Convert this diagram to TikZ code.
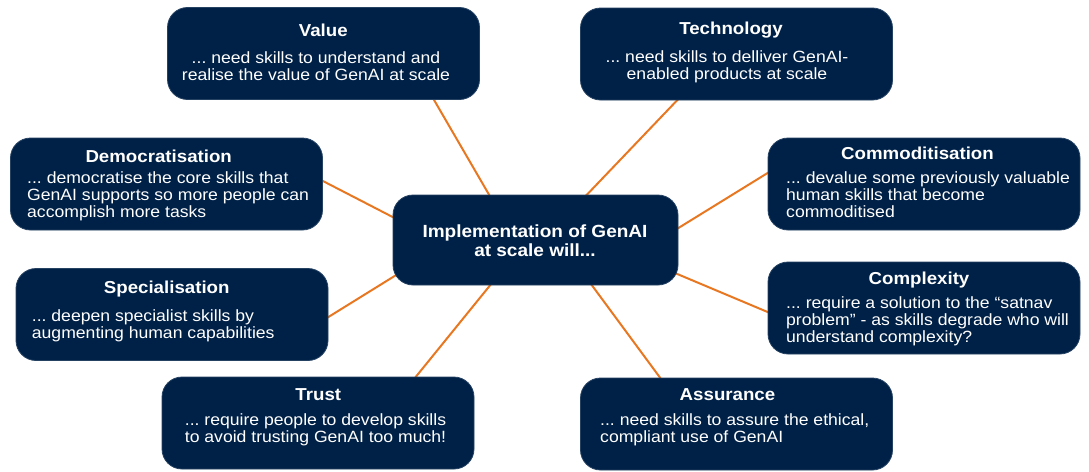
\documentclass[tikz,border=0pt]{standalone}
\usepackage{fontspec}
\setmainfont{Liberation Sans}[FakeStretch=1.08]
\usetikzlibrary{calc,backgrounds}
\definecolor{navy}{HTML}{002147}
\definecolor{wire}{HTML}{E87722}
\frenchspacing
\begin{document}
\begin{tikzpicture}[x=1pt,y=-1pt,
  card/.style={draw=navy!85!white, line width=0.8pt, fill=navy,
    rounded corners=20pt, minimum width=312pt, minimum height=92pt, inner sep=0pt},
  hub/.style={card, minimum width=285pt, minimum height=90pt},
  head/.style={text=white, font=\fontsize{17.3}{20}\selectfont\bfseries, inner sep=0pt, anchor=base},
  hubtext/.style={text=white, font=\fontsize{17.6}{19}\selectfont\bfseries, inner sep=0pt,
    align=center, anchor=base},
  body/.style={text=white, font=\fontsize{16.3}{16.8}\selectfont, inner sep=0pt,
    align=left, anchor=base west},
  cbody/.style={body, align=center, anchor=base},
  link/.style={draw=wire, line width=2pt, shorten <=-4pt, shorten >=-4pt}]
\useasboundingbox (0,0) rectangle (1089,471);

% the hub and the eight cards around it
\node[hub]  (ctr)   at (535.5,240) {};
\node[card] (val)   at (323.5,53.5) {};
\node[card] (tech)  at (736.5,54) {};
\node[card] (dem)   at (166.5,184) {};
\node[card] (comm)  at (924,184) {};
\node[card] (spec)  at (172,314.5) {};
\node[card] (cplx)  at (924,308) {};
\node[card] (trust) at (318,423) {};
\node[card] (assu)  at (736.5,424) {};

% hub text (multi-line nodes sit on the baseline of their last line)
\node[hubtext] (ctrT) at (535,256.7) {Implementation of GenAI\\at scale will...};

% card texts
\node[head]  (valT) at (323.3,36.7) {Value};
\node[cbody] (valB) at (316,80.1) {... need skills to understand and\\realise the value of GenAI at scale};

\node[head]  (techT) at (731,34) {Technology};
\node[cbody] (techB) at (727,79) {... need skills to delliver GenAI-\\enabled products at scale};

\node[head] (demT) at (158.7,162.3) {Democratisation};
\node[body] (demB) at (27,217.3) {... democratise the core skills that\\GenAI supports so more people can\\accomplish more tasks};

\node[head] (commT) at (917.5,159.3) {Commoditisation};
\node[body] (commB) at (786,217) {... devalue some previously valuable\\human skills that become\\commoditised};

\node[head] (specT) at (166.7,293.3) {Specialisation};
\node[body] (specB) at (31.7,338) {... deepen specialist skills by\\augmenting human capabilities};

\node[head] (cplxT) at (919,284.3) {Complexity};
\node[body] (cplxB) at (786,342) {... require a solution to the “satnav\\problem” - as skills degrade who will\\understand complexity?};

\node[head]  (trustT) at (318.3,400.7) {Trust};
\node[cbody] (trustB) at (315.5,442.7) {... require people to develop skills\\to avoid trusting GenAI too much!};

\node[head] (assuT) at (727.5,400.7) {Assurance};
\node[body] (assuB) at (600,442.7) {... need skills to assure the ethical,\\compliant use of GenAI};

% connectors, kept behind the cards
\begin{scope}[on background layer]
  \draw[link] ($(val.south)+(110.5,0)$)  -- ($(ctr.north)+(-46.5,0)$);
  \draw[link] ($(tech.south)+(-59.5,0)$) -- ($(ctr.north)+(51.5,0)$);
  \draw[link] ($(dem.east)+(0,-3)$)      -- ($(ctr.west)+(0,-23)$);
  \draw[link] ($(comm.west)+(0,-11)$)    -- ($(ctr.east)+(0,-12)$);
  \draw[link] ($(spec.east)+(0,2.5)$)    -- ($(ctr.west)+(2,36)$);
  \draw[link] ($(cplx.west)+(0,4)$)      -- ($(ctr.east)+(-3.5,33)$);
  \draw[link] ($(trust.north)+(98,0)$)   -- ($(ctr.south)+(-45.5,0)$);
  \draw[link] ($(assu.north)+(-76.5,0)$) -- ($(ctr.south)+(56.5,0)$);
\end{scope}
\end{tikzpicture}
\end{document}
